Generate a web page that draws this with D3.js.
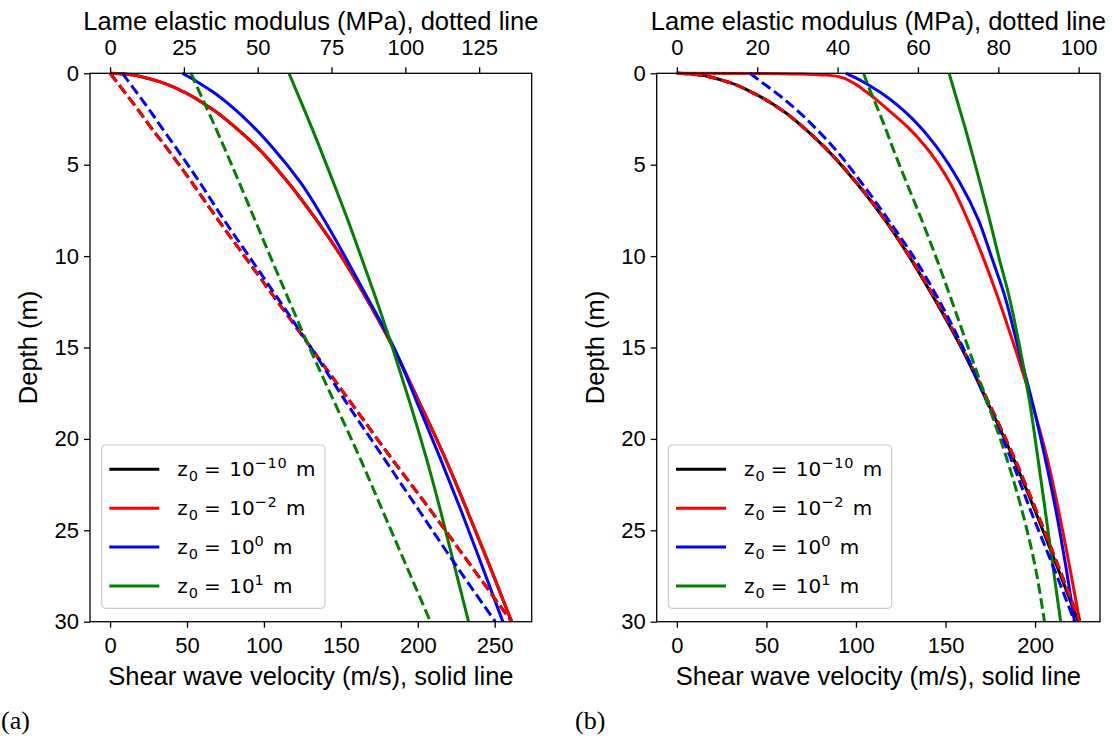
<html>
<head>
	<title>Shear wave velocity and Lame modulus profiles</title>
	<script src="https://d3js.org/d3.v7.min.js"></script>
	<style type="text/css">
		body { margin: 0; background: #fff; }
		text { font-family: "Liberation Sans", Arial, sans-serif; fill: #000; }
		.legend text { font-family: "DejaVu Sans", sans-serif; }
		.tag { font-family: "Liberation Serif", "Times New Roman", serif; }
	</style>
</head>
<body>
<div id="chart"></div>

<script type="text/javascript">
// depth samples (m), shared by every curve
var depth = [0, 0.02, 0.05, 0.1, 0.2, 0.5, 1, 2, 3, 4, 6, 8, 10, 12, 15, 18, 21, 24, 27, 30];

// legend: z0 exponents
var z0Exp = ["\u221210", "\u22122", "0", "1"];

// panel (a) : shear wave velocity (m/s), solid
var vsA_black = [0, 6.7, 10.6, 15, 21, 33.5, 47.5, 67, 82, 95, 116, 134, 150.2, 164.5, 184, 201, 217.5, 232.5, 247, 261];
var vsA_red   = [0, 6.7, 10.6, 15, 21, 33.5, 47.5, 67, 82, 95, 116, 134, 150.2, 164.5, 184, 201, 217.5, 232.5, 247, 261];
var vsA_blue  = [47, 47.4, 48.1, 49.2, 51.4, 57.3, 66.5, 81.5, 94, 105, 124, 139, 152.5, 165.5, 184.5, 199.5, 214.3, 228.5, 242, 255.3];
var vsA_green = [116.3, 116.4, 116.55, 116.8, 117.3, 118.8, 121.3, 126.3, 131.2, 136, 145.3, 154.4, 163, 171.5, 183.5, 194.8, 205.4, 215, 224, 233];
// panel (a) : Lame elastic modulus (MPa), dashed
var lameA_black = [0, 0.1, 0.25, 0.5, 1, 2.4, 4.8, 9.5, 14, 18.8, 27.8, 36.5, 45.5, 54.5, 68, 81.5, 95, 109, 122.5, 136];
var lameA_red   = [0, 0.1, 0.25, 0.5, 1, 2.4, 4.8, 9.5, 14, 18.8, 27.8, 36.5, 45.5, 54.5, 68, 81.5, 95, 109, 122.5, 136];
var lameA_blue  = [4.2, 4.3, 4.4, 4.6, 5.1, 6.5, 8.8, 13.3, 17.6, 22, 30.5, 38.5, 47, 55.5, 68, 80, 92.5, 105, 117.5, 130.5];
var lameA_green = [27.4, 27.5, 27.6, 27.7, 28, 28.8, 30.2, 33, 35.8, 38.5, 43.8, 49, 54.2, 59.5, 67.5, 76, 84.5, 92.5, 100.5, 108.5];

// panel (b) : shear wave velocity (m/s), solid
var vsB_black = [0, 6.1, 9.5, 13.3, 18.6, 29.3, 41.2, 58.4, 71.1, 82, 100.3, 116, 129.6, 141.8, 158.8, 173.5, 187.6, 200.3, 212.4, 224.2];
var vsB_red   = [0, 58, 73, 83, 91, 98, 105.5, 118, 129.5, 138.8, 152.6, 162.3, 170.7, 178.3, 188.7, 198.2, 206.6, 213.3, 219.3, 225];
var vsB_blue  = [94.3, 94.8, 95.4, 96.5, 98.7, 104.6, 112.9, 126.2, 136.5, 144.8, 158.1, 168.3, 175.5, 182.5, 190.5, 198.5, 205.5, 211.8, 217.2, 222];
var vsB_green = [152, 152.06, 152.15, 152.3, 152.6, 153.5, 155, 158, 161, 163.8, 169.3, 174.6, 179.6, 185, 191.5, 197, 201.5, 205.8, 210, 214.3];
// panel (b) : Lame elastic modulus (MPa), dashed
var lameB_black = [0, 2.6, 4.1, 5.8, 8.2, 13, 18.3, 26, 31.7, 36.6, 44.8, 51.8, 57.9, 63.4, 71, 77.6, 83.9, 89.6, 95, 100.3];
var lameB_red   = [0, 2.6, 4.1, 5.8, 8.2, 13, 18.3, 26, 31.7, 36.6, 44.8, 51.8, 57.9, 63.4, 71, 77.6, 83.9, 89.6, 95, 100.3];
var lameB_blue  = [18.2, 18.3, 18.5, 18.8, 19.4, 21.2, 24.3, 29.8, 34.5, 38.8, 46, 52.6, 58.8, 64.2, 71.2, 77.2, 83, 88.2, 93.7, 99];
var lameB_green = [46.5, 46.53, 46.57, 46.65, 46.8, 47.3, 48.2, 50.1, 51.9, 53.6, 57.2, 60.9, 64.4, 67.7, 72.5, 77.3, 82, 86, 89.2, 91.5];

// tick labels
var depthTicks = [0, 5, 10, 15, 20, 25, 30];
var vsTicksA = [0, 50, 100, 150, 200, 250];
var lameTicksA = [0, 25, 50, 75, 100, 125];
var vsTicksB = [0, 50, 100, 150, 200];
var lameTicksB = [0, 20, 40, 60, 80, 100];

var colors = ["#000000", "#ff0000", "#0000ff", "#008000"];

var svg = d3.select("#chart")
	.append("svg")
	.attr("width", 1115)
	.attr("height", 743);

function pad(ext) {
	var r = ext[1] - ext[0];
	return [ext[0] - 0.05 * r, ext[1] + 0.05 * r];
}

function drawPanel(p) {
	var top = 73.3, bottom = 621.7;
	var x = d3.scaleLinear().domain(pad(d3.extent(d3.merge(p.vs)))).range([p.left, p.right]);
	var xTop = d3.scaleLinear().domain(pad(d3.extent(d3.merge(p.lame)))).range([p.left, p.right]);
	var y = d3.scaleLinear().domain([0, 30]).range([top, bottom]);

	var g = svg.append("g");

	var lineVs = function(vals) {
		return d3.line()
			.x(function(d, j) { return x(vals[j]); })
			.y(function(d) { return y(d); })
			.curve(d3.curveMonotoneY)(depth);
	};
	var lineLame = function(vals) {
		return d3.line()
			.x(function(d, j) { return xTop(vals[j]); })
			.y(function(d) { return y(d); })
			.curve(d3.curveMonotoneY)(depth);
	};

	// solid lines first, dashed lines (twin axis) on top
	p.vs.forEach(function(vals, i) {
		g.append("path")
			.attr("d", lineVs(vals))
			.attr("fill", "none")
			.attr("stroke", colors[i])
			.attr("stroke-width", 3);
	});
	p.lame.forEach(function(vals, i) {
		g.append("path")
			.attr("d", lineLame(vals))
			.attr("fill", "none")
			.attr("stroke", colors[i])
			.attr("stroke-width", 3)
			.attr("stroke-dasharray", "10.5,4.5");
	});

	// axes
	var ax = g.append("g")
		.attr("transform", "translate(0," + bottom + ")")
		.call(d3.axisBottom(x).tickValues(p.vsTicks).tickSize(6).tickPadding(9.5));
	var axTop = g.append("g")
		.attr("transform", "translate(0," + top + ")")
		.call(d3.axisTop(xTop).tickValues(p.lameTicks).tickSize(6).tickPadding(12));
	var axLeft = g.append("g")
		.attr("transform", "translate(" + p.left + ",0)")
		.call(d3.axisLeft(y).tickValues(depthTicks).tickSize(6).tickPadding(5));

	[ax, axTop, axLeft].forEach(function(a) {
		a.select(".domain").remove();
		a.selectAll(".tick line").attr("stroke", "#000").attr("stroke-width", 1.3);
		a.selectAll(".tick text")
			.style("font-family", '"Liberation Sans", Arial, sans-serif')
			.style("font-size", "22px")
			.attr("fill", "#000");
	});

	g.append("rect")
		.attr("x", p.left)
		.attr("y", top)
		.attr("width", p.right - p.left)
		.attr("height", bottom - top)
		.attr("fill", "none")
		.attr("stroke", "#000")
		.attr("stroke-width", 1.3);

	// axis titles
	var cx = (p.left + p.right) / 2;
	g.append("text")
		.attr("x", cx).attr("y", 30)
		.attr("text-anchor", "middle")
		.style("font-size", "25.5px")
		.text("Lame elastic modulus (MPa), dotted line");
	g.append("text")
		.attr("x", cx).attr("y", 685)
		.attr("text-anchor", "middle")
		.style("font-size", "25.5px")
		.text("Shear wave velocity (m/s), solid line");
	g.append("text")
		.attr("transform", "translate(" + (p.left - 62) + "," + ((top + bottom) / 2) + ") rotate(-90)")
		.attr("text-anchor", "middle")
		.attr("dy", "0.35em")
		.style("font-size", "25.5px")
		.text("Depth (m)");

	// legend
	var lg = g.append("g").attr("class", "legend")
		.attr("transform", "translate(" + (p.left + 11.7) + ",445)");
	lg.append("rect")
		.attr("width", 223.3).attr("height", 163.3)
		.attr("rx", 4)
		.attr("fill", "#fff").attr("fill-opacity", 0.8)
		.attr("stroke", "#cccccc").attr("stroke-width", 1.2);
	z0Exp.forEach(function(e, i) {
		var ry = 24.3 + i * 38.9;
		lg.append("line")
			.attr("x1", 7.6).attr("x2", 57.6)
			.attr("y1", ry).attr("y2", ry)
			.attr("stroke", colors[i]).attr("stroke-width", 3);
		var t = lg.append("text")
			.attr("x", 75.6).attr("y", ry + 7)
			.style("font-size", "20px");
		t.append("tspan").text("z");
		t.append("tspan").attr("dy", 4.5).attr("dx", 1).style("font-size", "14.5px").text("0");
		t.append("tspan").attr("dy", -4.5).attr("dx", 6).text("= ");
		t.append("tspan").attr("dx", 2).text("10");
		t.append("tspan").attr("dy", -8.5).style("font-size", "14.5px").style("letter-spacing", "0.8px").text(e);
		t.append("tspan").attr("dy", 8.5).attr("dx", 2).text(" m");
	});

	svg.append("text")
		.attr("class", "tag")
		.attr("x", p.tagX).attr("y", 729)
		.style("font-size", "26px")
		.style("font-family", '"Liberation Serif", "Times New Roman", serif')
		.text(p.tag);
}

drawPanel({
	left: 90, right: 531.7, tag: "(a)", tagX: 1,
	vs: [vsA_black, vsA_red, vsA_blue, vsA_green],
	lame: [lameA_black, lameA_red, lameA_blue, lameA_green],
	vsTicks: vsTicksA, lameTicks: lameTicksA
});
drawPanel({
	left: 656.7, right: 1100, tag: "(b)", tagX: 575,
	vs: [vsB_black, vsB_red, vsB_blue, vsB_green],
	lame: [lameB_black, lameB_red, lameB_blue, lameB_green],
	vsTicks: vsTicksB, lameTicks: lameTicksB
});
</script>
</body>
</html>
